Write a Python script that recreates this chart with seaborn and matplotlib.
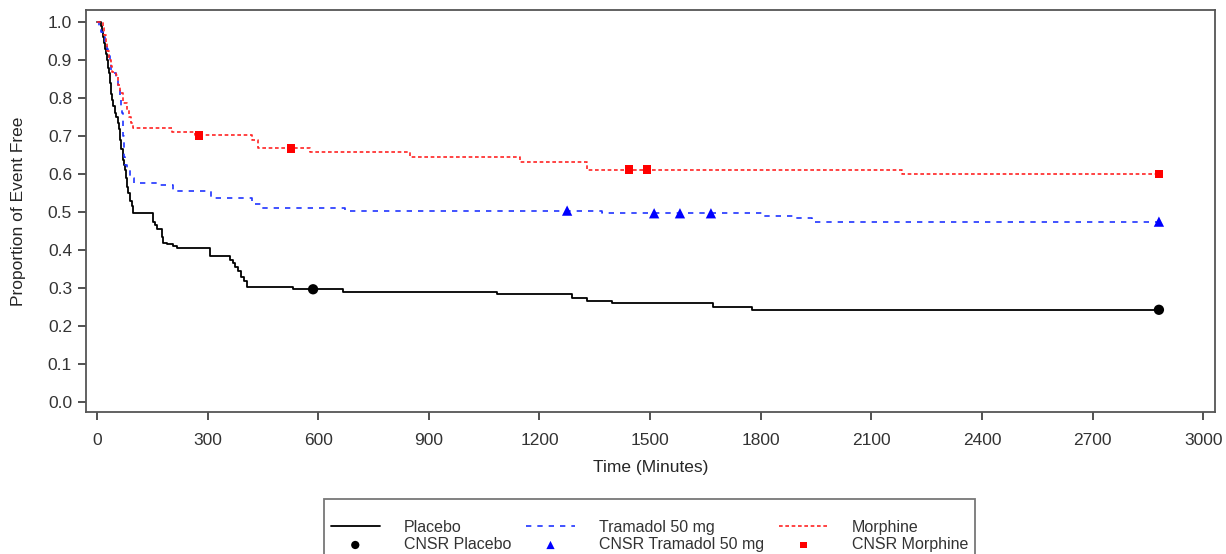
import numpy as np
import pandas as pd
import matplotlib
matplotlib.use("Agg")
import matplotlib.pyplot as plt
import seaborn as sns

# Kaplan-Meier step curves: step times (minutes) and proportion event free
placebo_t = [0, 10, 14, 17, 19, 22, 24, 27, 30, 32, 35, 38, 41, 44, 48, 52, 57, 60,
             62, 66, 71, 74, 76, 79, 81, 85, 90, 94, 98, 152, 158, 163, 175, 180,
             190, 205, 217, 306, 361, 368, 375, 383, 390, 398, 408, 532, 667, 1085,
             1288, 1329, 1397, 1671, 1776, 2880]
placebo_s = [1.0, 0.99, 0.975, 0.96, 0.945, 0.93, 0.915, 0.9, 0.88, 0.865, 0.84, 0.81,
             0.795, 0.78, 0.76, 0.75, 0.735, 0.72, 0.69, 0.665, 0.637, 0.625, 0.61,
             0.59, 0.566, 0.55, 0.53, 0.515, 0.497, 0.475, 0.465, 0.455, 0.435, 0.42,
             0.415, 0.41, 0.405, 0.385, 0.375, 0.365, 0.355, 0.345, 0.33, 0.318, 0.303,
             0.297, 0.29, 0.284, 0.274, 0.266, 0.26, 0.25, 0.243, 0.243]

tramadol_t = [0, 5, 12, 17, 22, 26, 30, 35, 39, 45, 52, 57, 62, 66, 68, 70, 71, 72,
              73, 76, 82, 90, 100, 172, 207, 308, 420, 447, 673, 1370, 1806, 1893,
              1939, 2880]
tramadol_s = [1.0, 0.99, 0.975, 0.96, 0.945, 0.93, 0.91, 0.89, 0.875, 0.866, 0.85,
              0.83, 0.80, 0.78, 0.76, 0.73, 0.70, 0.675, 0.645, 0.625, 0.61, 0.59,
              0.576, 0.571, 0.556, 0.536, 0.522, 0.512, 0.504, 0.497, 0.49, 0.484,
              0.475, 0.475]

morphine_t = [0, 15, 20, 24, 28, 33, 38, 40, 52, 57, 62, 70, 80, 88, 93, 98, 203,
              265, 420, 437, 578, 849, 1147, 1329, 2183, 2880]
morphine_s = [1.0, 0.985, 0.965, 0.945, 0.925, 0.9, 0.885, 0.87, 0.86, 0.835, 0.813,
              0.787, 0.768, 0.75, 0.735, 0.722, 0.711, 0.702, 0.69, 0.668, 0.657,
              0.646, 0.633, 0.612, 0.6, 0.6]

# Censored observations
cnsr_placebo_t = [586, 2880]
cnsr_placebo_s = [0.297, 0.243]
cnsr_tramadol_t = [1275, 1511, 1581, 1665, 2880]
cnsr_tramadol_s = [0.504, 0.497, 0.497, 0.497, 0.475]
cnsr_morphine_t = [277, 526, 1443, 1492, 2880]
cnsr_morphine_s = [0.702, 0.668, 0.612, 0.612, 0.6]

x_ticks = list(range(0, 3001, 300))
y_ticks = [round(v * 0.1, 1) for v in range(11)]

sns.set_style("ticks")
plt.rcParams["font.family"] = ["Liberation Sans", "DejaVu Sans"]
plt.rcParams["text.color"] = "#333333"
plt.rcParams["xtick.color"] = "#333333"
plt.rcParams["ytick.color"] = "#333333"

fig = plt.figure(figsize=(12.26, 5.54), dpi=100)
ax = fig.add_axes([0.0701, 0.2563, 0.9209, 0.7257])

BLUE = "#2035ff"
RED = "#ff2424"

sns.lineplot(x=placebo_t, y=placebo_s, ax=ax, color="black", lw=1.3,
             drawstyle="steps-post", label="Placebo", estimator=None, sort=False)
sns.lineplot(x=tramadol_t, y=tramadol_s, ax=ax, color=BLUE, lw=1.2,
             drawstyle="steps-post", label="Tramadol 50 mg", estimator=None,
             sort=False, dashes=False)
sns.lineplot(x=morphine_t, y=morphine_s, ax=ax, color=RED, lw=1.2,
             drawstyle="steps-post", label="Morphine", estimator=None,
             sort=False, dashes=False)
lines = ax.get_lines()
lines[1].set_dashes((3.2, 3.6))
lines[2].set_dashes((2.2, 1.6))

sns.scatterplot(x=cnsr_placebo_t, y=cnsr_placebo_s, ax=ax, color="black",
                marker="o", s=55, edgecolor="none", label="CNSR Placebo", zorder=5)
sns.scatterplot(x=cnsr_tramadol_t, y=cnsr_tramadol_s, ax=ax, color="blue",
                marker="^", s=55, edgecolor="none", label="CNSR Tramadol 50 mg", zorder=5)
sns.scatterplot(x=cnsr_morphine_t, y=cnsr_morphine_s, ax=ax, color="red",
                marker="s", s=38, edgecolor="none", label="CNSR Morphine", zorder=5)

ax.set_xlim(-30, 3032)
ax.set_ylim(-0.026, 1.032)
ax.set_xticks(x_ticks)
ax.set_yticks(y_ticks)
ax.set_yticklabels([f"{v:.1f}" for v in y_ticks])
ax.tick_params(axis="both", labelsize=12.5, length=6, width=1.2, direction="out")
ax.tick_params(axis="x", pad=9)
ax.tick_params(axis="y", pad=4)
for sp in ax.spines.values():
    sp.set_visible(True)
    sp.set_color("#555555")
    sp.set_linewidth(1.3)
ax.set_xlabel("Time (Minutes)", fontsize=12.5, labelpad=9)
ax.set_ylabel("Proportion of Event Free", fontsize=12.5, labelpad=16)

handles, labels = ax.get_legend_handles_labels()
order = ["Placebo", "CNSR Placebo", "Tramadol 50 mg", "CNSR Tramadol 50 mg",
         "Morphine", "CNSR Morphine"]
hmap = dict(zip(labels, handles))
ax.get_legend().remove()
leg = fig.legend([hmap[k] for k in order], order, loc="upper center",
                 bbox_to_anchor=(0.5298, 0.1137), ncol=3, fontsize=11.5,
                 title=" ", title_fontsize=9, frameon=True, fancybox=False,
                 edgecolor="#555555", borderpad=0.4, labelspacing=0.15,
                 handlelength=3.1, columnspacing=0.9, handletextpad=1.5,
                 markerscale=0.8)
leg.get_frame().set_linewidth(1.3)

fig.savefig("out.png", dpi=100)
